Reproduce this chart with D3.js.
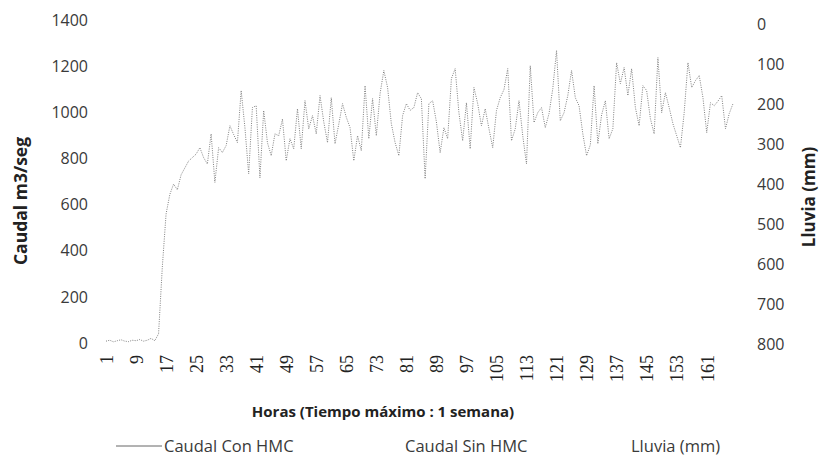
<!DOCTYPE html>
<html>
<head>
<meta charset="utf-8">
<script src="https://cdn.jsdelivr.net/npm/d3@7"></script>
<style>
  body { margin: 0; background: #fff; }
  svg { display: block; }
</style>
</head>
<body>
<svg width="822" height="466"></svg>
<script>
// Horas 1..168 (categorias del eje x)
var horas = d3.range(1, 169)

// Caudal Con HMC (m3/seg)
var caudalConHMC = [
  8, 12, 5, 10, 14, 8, 6, 12, 10, 15, 8, 12, 20, 10, 40, 330, 560, 645, 690, 665,
  730, 760, 790, 805, 820, 848, 805, 777, 908, 697, 848, 827, 857, 943, 905, 870, 1096, 935, 734, 1022,
  1030, 717, 1009, 870, 813, 908, 900, 972, 791, 887, 843, 1017, 843, 1052, 930, 987, 908, 1074, 960, 870,
  1065, 865, 950, 1039, 980, 935, 791, 900, 835, 1117, 887, 1061, 900, 1083, 1183, 1109, 952, 870, 813, 987,
  1039, 1010, 1022, 1087, 1060, 713, 1039, 1052, 960, 826, 935, 887, 1148, 1191, 1000, 878, 1043, 843, 1109, 1039,
  943, 1017, 930, 848, 1009, 1065, 1100, 1191, 878, 930, 1052, 900, 777, 1204, 957, 1000, 1022, 935, 996, 1104,
  1270, 965, 1000, 1074, 1183, 1065, 1030, 908, 813, 860, 1117, 865, 990, 1052, 887, 930, 1217, 1126, 1196, 1074,
  1191, 1022, 943, 1117, 1096, 974, 908, 1239, 1000, 1087, 1022, 952, 900, 848, 1000, 1217, 1109, 1139, 1161, 1065,
  913, 1043, 1030, 1050, 1074, 930, 996, 1039
]

var ticksIzq = [0, 200, 400, 600, 800, 1000, 1200, 1400]
var ticksDer = [0, 100, 200, 300, 400, 500, 600, 700, 800]
var ticksX = horas.filter(function(h) { return (h - 1) % 8 === 0 }) // 1, 9, 17 ... 161

var series = ["Caudal Con HMC", "Caudal Sin HMC", "Lluvia (mm)"]

var svg = d3.select("svg")

var plotLeft = 106, plotRight = 733
var plotTop = 20.5, plotBottom = 343

var x = d3.scalePoint()
    .domain(horas)
    .range([plotLeft, plotRight])

var y = d3.scaleLinear()
    .domain([0, 1400])
    .range([plotBottom, plotTop])

// eje derecho invertido (lluvia)
var yDer = d3.scaleLinear()
    .domain([0, 800])
    .range([24, 344])

var fmt = d3.format("d")

// Eje izquierdo
var ejeIzq = svg.append("g")
    .attr("transform", "translate(88,0)")
    .call(d3.axisLeft(y).tickValues(ticksIzq).tickFormat(fmt).tickSize(0).tickPadding(0))
ejeIzq.select(".domain").remove()
ejeIzq.selectAll("text")
    .style("font-family", "'Open Sans', sans-serif")
    .style("font-size", "16px")
    .style("fill", "#3a3a3a")

// Eje derecho
var ejeDer = svg.append("g")
    .attr("transform", "translate(757,0)")
    .call(d3.axisRight(yDer).tickValues(ticksDer).tickFormat(fmt).tickSize(0).tickPadding(0))
ejeDer.select(".domain").remove()
ejeDer.selectAll("text")
    .style("font-family", "'Open Sans', sans-serif")
    .style("font-size", "16px")
    .style("fill", "#3a3a3a")

// Eje x, etiquetas giradas
var ejeX = svg.append("g")
    .attr("transform", "translate(0,355)")
    .call(d3.axisBottom(x).tickValues(ticksX).tickSize(0).tickPadding(0))
ejeX.select(".domain").remove()
ejeX.selectAll("text")
    .attr("transform", "rotate(-90)")
    .attr("text-anchor", "end")
    .attr("x", 0)
    .attr("y", 0)
    .attr("dy", "0.35em")
    .style("font-family", "'Liberation Serif', serif")
    .style("font-size", "18px")
    .style("fill", "#222")

// Linea del caudal
var linea = d3.line()
    .x(function(d, i) { return x(horas[i]) })
    .y(function(d) { return y(d) })

svg.append("path")
    .datum(caudalConHMC)
    .attr("d", linea)
    .attr("fill", "none")
    .attr("stroke", "#808080")
    .attr("stroke-width", 1)
    .attr("stroke-dasharray", "1,1.3")

// Titulos
svg.append("text")
    .attr("transform", "translate(27,201) rotate(-90)")
    .attr("text-anchor", "middle")
    .style("font-family", "'Open Sans', sans-serif")
    .style("font-weight", "bold")
    .style("font-size", "17.5px")
    .style("fill", "#222")
    .text("Caudal m3/seg")

svg.append("text")
    .attr("transform", "translate(815,197) rotate(-90)")
    .attr("text-anchor", "middle")
    .style("font-family", "'Open Sans', sans-serif")
    .style("font-weight", "bold")
    .style("font-size", "17px")
    .style("fill", "#222")
    .text("Lluvia (mm)")

svg.append("text")
    .attr("x", 383)
    .attr("y", 417)
    .attr("text-anchor", "middle")
    .style("font-family", "'Open Sans', sans-serif")
    .style("font-weight", "bold")
    .style("font-size", "15px")
    .style("fill", "#222")
    .text("Horas (Tiempo máximo : 1 semana)")

// Leyenda
var leyendaX = [164, 405, 631]
var leyenda = svg.append("g")

leyenda.append("line")
    .attr("x1", 116).attr("x2", 162)
    .attr("y1", 446).attr("y2", 446)
    .attr("stroke", "#666")
    .attr("stroke-width", 1)

leyenda.selectAll("text")
    .data(series)
    .enter()
    .append("text")
      .attr("x", function(d, i) { return leyendaX[i] })
      .attr("y", 452)
      .style("font-family", "'Open Sans', sans-serif")
      .style("font-size", "16.5px")
      .style("fill", "#3a3a3a")
      .text(function(d) { return d })
</script>
</body>
</html>
